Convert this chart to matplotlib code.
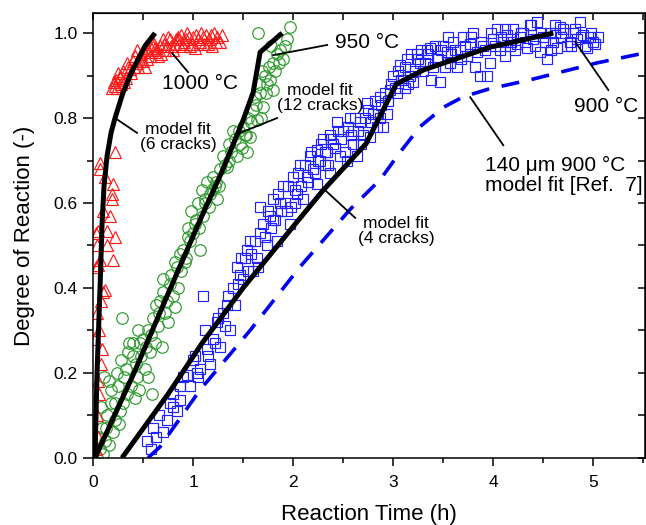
import matplotlib
matplotlib.use("Agg")
import matplotlib.pyplot as plt
from matplotlib.ticker import MultipleLocator

plt.rcParams['font.family'] = ['Liberation Sans', 'DejaVu Sans']

# 1000 C data (red triangles)
t_1000 = [0.03, 0.05, 0.04, 0.06, 0.05, 0.08, 0.09, 0.06, 0.04, 0.08, 0.12, 0.10, 0.05, 0.07,
          0.20, 0.04, 0.14, 0.22, 0.05, 0.14, 0.17, 0.19, 0.19, 0.20, 0.07, 0.07, 0.22,
          0.19, 0.22, 0.23, 0.25, 0.28, 0.30, 0.33, 0.35, 0.38, 0.40, 0.42, 0.45, 0.48, 0.50,
          0.52, 0.55, 0.57, 0.59, 0.62, 0.65, 0.67, 0.70, 0.72, 0.75, 0.78, 0.80, 0.83, 0.86,
          0.88, 0.91, 0.94, 0.97, 1.00, 1.02, 1.05, 1.08, 1.11, 1.13, 1.16, 1.19, 1.21, 1.24,
          1.27, 1.29, 0.27, 0.44, 0.62, 0.85,
          0.21, 0.24, 0.27, 0.31, 0.34, 0.37, 0.41, 0.44, 0.47, 0.51, 0.54, 0.58, 0.61, 0.64,
          0.68, 0.71, 0.74, 0.77, 0.82, 0.85, 0.90, 0.93, 0.96, 0.99, 1.03, 1.07, 1.10, 1.15,
          1.18, 1.23, 0.02, 0.03, 0.03, 0.10, 0.12]
x_1000 = [0.02, 0.05, 0.10, 0.15, 0.18, 0.22, 0.255, 0.30, 0.34, 0.37, 0.395, 0.39, 0.455, 0.465,
          0.465, 0.50, 0.50, 0.52, 0.535, 0.535, 0.57, 0.61, 0.62, 0.645, 0.68, 0.695, 0.72,
          0.870, 0.875, 0.89, 0.905, 0.88, 0.91, 0.895, 0.92, 0.905, 0.935, 0.945, 0.92, 0.95, 0.935,
          0.92, 0.96, 0.945, 0.975, 0.955, 0.945, 0.97, 0.985, 0.96, 0.99, 0.97, 0.96, 0.985, 0.975,
          0.995, 0.98, 1.0, 0.97, 0.99, 0.965, 0.985, 1.0, 0.975, 0.995, 0.985, 0.97, 1.0, 0.99,
          0.98, 0.995, 0.895, 0.93, 0.965, 0.985,
          0.885, 0.87, 0.90, 0.885, 0.93, 0.915, 0.92, 0.96, 0.935, 0.955, 0.94, 0.965, 0.975, 0.96,
          0.95, 0.975, 0.97, 0.985, 0.975, 0.99, 0.97, 0.985, 0.99, 0.975, 0.995, 0.98, 0.99, 0.975,
          0.995, 0.98, 0.28, 0.45, 0.53, 0.58, 0.66]

# 950 C data (green circles)
t_950 = [0.04, 0.07, 0.10, 0.12, 0.16, 0.20, 0.09, 0.14, 0.22, 0.27, 0.18, 0.30, 0.11, 0.16,
         0.24, 0.34, 0.42, 0.38, 0.46, 0.52, 0.28, 0.35, 0.29, 0.43, 0.48, 0.55, 0.59, 0.57,
         0.62, 0.50, 0.45, 0.65, 0.69, 0.60, 0.72, 0.75, 0.82, 0.67, 0.77, 0.70, 0.80, 0.85,
         0.88, 0.82, 0.90, 0.93, 0.97, 1.00, 1.07, 1.03, 0.98, 1.05, 1.10, 1.14, 1.09, 1.17,
         1.24, 1.20, 1.27, 1.34, 1.30, 1.38, 1.44, 1.40, 1.47, 1.54, 1.50, 1.57, 1.55, 1.60,
         1.64, 1.62, 1.67, 1.70, 1.66, 1.72, 1.74, 1.80, 1.76, 1.80, 1.84, 1.87, 1.90, 1.94,
         1.97, 1.65, 0.40, 0.55, 0.95, 1.12, 1.22, 1.36, 1.52, 1.69, 1.78,
         0.05, 0.08, 0.13, 0.18, 0.22, 0.25, 0.26, 0.31, 0.33, 0.36, 0.40, 0.44, 0.47, 0.53,
         0.58, 0.63, 0.66, 0.70, 0.74, 0.78, 0.84, 0.87, 0.92, 0.95, 1.02, 1.06, 1.12, 1.16,
         1.19, 1.23, 1.26, 1.32, 1.36, 1.42, 1.46, 1.49, 1.53, 1.58, 1.63, 1.68, 1.73, 1.77,
         1.82, 1.86, 1.92]
x_950 = [0.00, 0.02, 0.01, 0.04, 0.03, 0.06, 0.07, 0.10, 0.09, 0.11, 0.13, 0.13, 0.19, 0.18,
         0.20, 0.15, 0.14, 0.17, 0.16, 0.21, 0.23, 0.25, 0.33, 0.22, 0.24, 0.19, 0.15, 0.25,
         0.27, 0.28, 0.30, 0.31, 0.26, 0.33, 0.34, 0.32, 0.355, 0.37, 0.41, 0.42, 0.38, 0.40,
         0.44, 0.46, 0.49, 0.47, 0.51, 0.53, 0.49, 0.56, 0.58, 0.60, 0.57, 0.65, 0.63, 0.62,
         0.61, 0.66, 0.68, 0.685, 0.71, 0.72, 0.71, 0.77, 0.74, 0.72, 0.78, 0.755, 0.80, 0.82,
         0.795, 0.85, 0.86, 0.825, 0.88, 0.90, 0.88, 0.865, 0.92, 0.93, 0.95, 0.96, 0.94, 0.985,
         1.015, 1.00, 0.27, 0.30, 0.54, 0.60, 0.64, 0.70, 0.76, 0.91, 0.97,
         0.05, 0.12, 0.07, 0.16, 0.13, 0.17, 0.08, 0.19, 0.21, 0.27, 0.24, 0.19, 0.27, 0.26,
         0.29, 0.36, 0.34, 0.39, 0.37, 0.43, 0.45, 0.48, 0.46, 0.52, 0.55, 0.54, 0.61, 0.59,
         0.63, 0.65, 0.64, 0.69, 0.74, 0.75, 0.77, 0.73, 0.76, 0.79, 0.83, 0.80, 0.86, 0.89,
         0.91, 0.93, 0.97]

# 900 C data (blue squares)
t_900 = [0.54, 0.58, 0.60, 0.63, 0.66, 0.70, 0.74, 0.77, 0.80, 0.80, 0.84, 0.87, 0.87, 0.90,
         0.94, 0.97, 1.00, 1.04, 1.07, 1.10, 1.14, 1.17, 1.20, 1.24, 1.27, 1.30, 1.34, 1.37,
         1.40, 1.44, 1.47, 1.50, 1.54, 1.57, 1.60, 1.64, 1.67, 1.67, 1.70, 1.74, 1.77, 1.80,
         1.84, 1.87, 1.90, 1.94, 1.97, 2.00, 2.04, 2.07, 2.10, 2.14, 2.17, 2.20, 2.24, 2.24,
         2.27, 2.30, 2.34, 2.37, 2.37, 2.40, 2.44, 2.47, 2.50, 2.54, 2.57, 2.60, 2.64, 2.67,
         2.70, 2.74, 2.77, 2.80, 2.84, 2.87, 2.87, 2.90, 2.94, 2.97, 3.00, 3.04, 3.07, 3.10,
         3.14, 3.17, 3.20, 3.24, 3.27, 3.30, 3.34, 3.37, 3.40, 3.44, 3.47, 3.50, 3.54, 3.57,
         3.60, 3.64, 3.67, 3.70, 3.74, 3.77, 3.80, 3.84, 3.87, 3.90, 3.94, 3.97, 4.00, 4.04,
         4.07, 4.10, 4.14, 4.17, 4.20, 4.24, 4.27, 4.30, 4.34, 4.37, 4.40, 4.44, 4.47, 4.50,
         4.54, 4.57, 4.60, 4.64, 4.67, 4.70, 4.74, 4.77, 4.80, 4.84, 4.87, 4.90, 4.94, 4.97,
         5.00, 5.05, 1.52, 1.80, 2.02, 2.32, 2.60, 3.12, 3.58, 4.12, 4.62,
         1.02, 1.05, 1.12, 1.15, 1.22, 1.25, 1.32, 1.35, 1.42, 1.45, 1.48, 1.55, 1.58, 1.62,
         1.65, 1.72, 1.75, 1.78, 1.82, 1.85, 1.88, 1.92, 1.95, 1.98, 2.02, 2.05, 2.08, 2.12,
         2.15, 2.18, 2.22, 2.25, 2.28, 2.32, 2.35, 2.38, 2.42, 2.45, 2.48, 2.52, 2.55, 2.58,
         2.62, 2.65, 2.68, 2.72, 2.75, 2.78, 2.82, 2.85, 2.88, 2.92, 2.95, 2.98, 3.02, 3.05,
         3.08, 3.12, 3.15, 3.18, 3.22, 3.25, 3.28, 3.32, 3.35, 3.38, 3.42, 3.45, 3.48, 3.52,
         3.55, 3.62, 3.68, 3.72, 3.78, 3.82, 3.88, 3.92, 3.98, 4.02, 4.08, 4.12, 4.18, 4.22,
         4.28, 4.32, 4.38, 4.42, 4.48, 4.52, 4.58, 4.62, 4.68, 4.72, 4.78, 4.82, 4.88, 4.92,
         4.98, 5.02]
x_900 = [0.04, 0.02, 0.07, 0.05, 0.10, 0.06, 0.09, 0.13, 0.12, 0.15, 0.11, 0.135, 0.17, 0.19,
         0.195, 0.17, 0.23, 0.20, 0.21, 0.38, 0.255, 0.22, 0.28, 0.32, 0.26, 0.34, 0.36, 0.30,
         0.40, 0.45, 0.43, 0.42, 0.49, 0.51, 0.44, 0.47, 0.53, 0.59, 0.55, 0.50, 0.57, 0.61,
         0.51, 0.60, 0.64, 0.58, 0.55, 0.66, 0.62, 0.69, 0.61, 0.66, 0.71, 0.68, 0.725, 0.645,
         0.70, 0.75, 0.72, 0.76, 0.67, 0.74, 0.79, 0.71, 0.77, 0.70, 0.80, 0.74, 0.71, 0.79,
         0.76, 0.835, 0.755, 0.81, 0.78, 0.85, 0.80, 0.78, 0.81, 0.865, 0.90, 0.86, 0.925, 0.89,
         0.94, 0.90, 0.885, 0.95, 0.93, 0.91, 0.96, 0.965, 0.92, 0.94, 0.885, 0.97, 0.955, 0.93,
         0.98, 0.92, 0.96, 0.99, 0.945, 0.975, 1.0, 0.955, 0.90, 0.97, 0.90, 0.93, 0.985, 1.01,
         0.96, 0.98, 0.995, 0.97, 1.01, 0.975, 0.99, 1.0, 0.965, 1.02, 0.985, 1.025, 0.955, 0.99,
         0.94, 1.0, 0.98, 0.965, 1.015, 1.01, 0.97, 0.98, 1.0, 0.985, 1.025, 0.995, 0.965, 0.99,
         0.98, 0.99, 0.47, 0.56, 0.60, 0.69, 0.77, 0.87, 0.95, 0.945, 1.0,
         0.24, 0.19, 0.30, 0.24, 0.27, 0.33, 0.31, 0.38, 0.36, 0.41, 0.47, 0.44, 0.48, 0.51,
         0.45, 0.52, 0.58, 0.54, 0.56, 0.62, 0.58, 0.60, 0.64, 0.59, 0.63, 0.67, 0.64, 0.69,
         0.65, 0.72, 0.67, 0.70, 0.74, 0.72, 0.69, 0.75, 0.73, 0.77, 0.75, 0.72, 0.78, 0.76,
         0.80, 0.77, 0.74, 0.80, 0.82, 0.79, 0.84, 0.81, 0.83, 0.86, 0.84, 0.88, 0.87, 0.91,
         0.89, 0.92, 0.88, 0.95, 0.91, 0.94, 0.96, 0.93, 0.95, 0.89, 0.97, 0.94, 0.96, 0.92,
         0.99, 0.96, 0.94, 0.97, 0.99, 0.92, 0.98, 0.96, 1.0, 0.97, 0.99, 1.01, 0.98, 0.96,
         1.0, 0.98, 1.02, 0.97, 1.0, 0.98, 0.96, 1.02, 0.99, 1.0, 0.97, 1.01, 0.99, 0.97,
         1.0, 0.975]

# model fits (black lines)
fit6_t = [0.02, 0.04, 0.07, 0.09, 0.11, 0.14, 0.18, 0.22, 0.30, 0.39, 0.52, 0.62]
fit6_x = [0.0, 0.2, 0.4, 0.55, 0.64, 0.71, 0.765, 0.80, 0.86, 0.91, 0.97, 1.0]
fit12_t = [0.02, 0.41, 0.72, 1.07, 1.30, 1.50, 1.60, 1.67, 1.89]
fit12_x = [0.0, 0.2, 0.37, 0.56, 0.68, 0.795, 0.86, 0.955, 1.0]
fit4_t = [0.29, 0.75, 1.09, 1.50, 2.04, 2.30, 2.73, 2.88, 3.03, 3.30, 3.97, 4.60]
fit4_x = [0.0, 0.15, 0.27, 0.40, 0.556, 0.63, 0.74, 0.81, 0.88, 0.913, 0.967, 1.0]

# ref. 7 model (blue dashed)
ref_t = [0.55, 0.67, 1.07, 1.57, 2.07, 2.57, 2.87, 3.07, 3.27, 3.50, 3.70, 3.95, 4.37, 5.04, 5.55]
ref_x = [0.0, 0.026, 0.16, 0.30, 0.45, 0.585, 0.655, 0.72, 0.78, 0.825, 0.85, 0.868, 0.89, 0.93, 0.955]

fig = plt.figure(figsize=(6.46, 5.25), dpi=100)
ax = fig.add_axes([0.144, 0.128, 0.855, 0.847])

ax.plot(t_900, x_900, ls='none', marker='s', ms=7.2, mfc='none', mec='#2222ff', mew=0.85)
ax.plot(t_950, x_950, ls='none', marker='o', ms=8.3, mfc='none', mec='#2e9a2e', mew=0.85)
ax.plot(t_1000, x_1000, ls='none', marker='^', ms=8.8, mfc='none', mec='#ff1a1a', mew=0.85)

ax.plot(ref_t, ref_x, color='#0000ee', lw=2.6, dashes=(5, 3.5))
for ft, fx in [(fit6_t, fit6_x), (fit12_t, fit12_x), (fit4_t, fit4_x)]:
    ax.plot(ft, fx, color='black', lw=3.6, solid_capstyle='butt')

# labels with leader lines
notes = [
    ("1000 °C", (1.07, 0.882), (0.95, 0.908), (0.79, 0.953), 15, 'center'),
    ("model fit\n(6 cracks)", (0.85, 0.755), (0.44, 0.765), (0.22, 0.80), 12.5, 'center'),
    ("950 °C", (2.74, 0.979), (2.34, 0.972), (1.80, 0.948), 15, 'center'),
    ("model fit\n(12 cracks)", (2.27, 0.847), (1.84, 0.80), (1.47, 0.765), 12.5, 'center'),
    ("model fit\n(4 cracks)", (3.03, 0.534), (2.62, 0.565), (2.32, 0.63), 12.5, 'center'),
    ("900 °C", (5.13, 0.826), (5.15, 0.866), (4.82, 0.979), 15, 'center'),
    ("140 \u03bcm 900 °C\nmodel fit [Ref.  7]", (3.92, 0.664), (4.10, 0.736), (3.77, 0.849), 15, 'left'),
]
for txt, pos, p0, p1, fs, ha in notes:
    ax.plot([p0[0], p1[0]], [p0[1], p1[1]], color='black', lw=1.3)
    ax.text(pos[0], pos[1], txt, fontsize=fs, ha=ha, va='center', multialignment=ha,
            linespacing=1.05)

ax.set_xlim(0, 5.52)
ax.set_ylim(0, 1.047)
ax.xaxis.set_major_locator(MultipleLocator(1))
ax.xaxis.set_minor_locator(MultipleLocator(0.5))
ax.yaxis.set_major_locator(MultipleLocator(0.2))
ax.yaxis.set_minor_locator(MultipleLocator(0.1))
ax.yaxis.set_major_formatter(plt.FormatStrFormatter('%.1f'))

ax.tick_params(axis='both', which='major', labelsize=12.5, width=1.1)
ax.tick_params(axis='x', which='major', direction='out', length=6, pad=6.5)
ax.tick_params(axis='x', which='minor', direction='out', length=3.5, width=1.1)
ax.tick_params(axis='y', which='major', direction='out', length=7, pad=4)
ax.tick_params(axis='y', which='minor', direction='out', length=4, width=1.1)
for spine in ax.spines.values():
    spine.set_linewidth(1.1)

# inward ticks on top and right
top = ax.secondary_xaxis('top')
top.xaxis.set_major_locator(MultipleLocator(0.5))
top.tick_params(direction='in', length=5, width=1.1, labeltop=False)
right = ax.secondary_yaxis('right')
right.yaxis.set_major_locator(MultipleLocator(0.1))
right.tick_params(direction='in', length=5, width=1.1, labelright=False)
ax.tick_params(which='both', top=False, right=False)

ax.set_xlabel('Reaction Time (h)', fontsize=16, labelpad=10)
ax.set_ylabel('Degree of Reaction (-)', fontsize=16, labelpad=13)

fig.savefig('out.png', dpi=100)
